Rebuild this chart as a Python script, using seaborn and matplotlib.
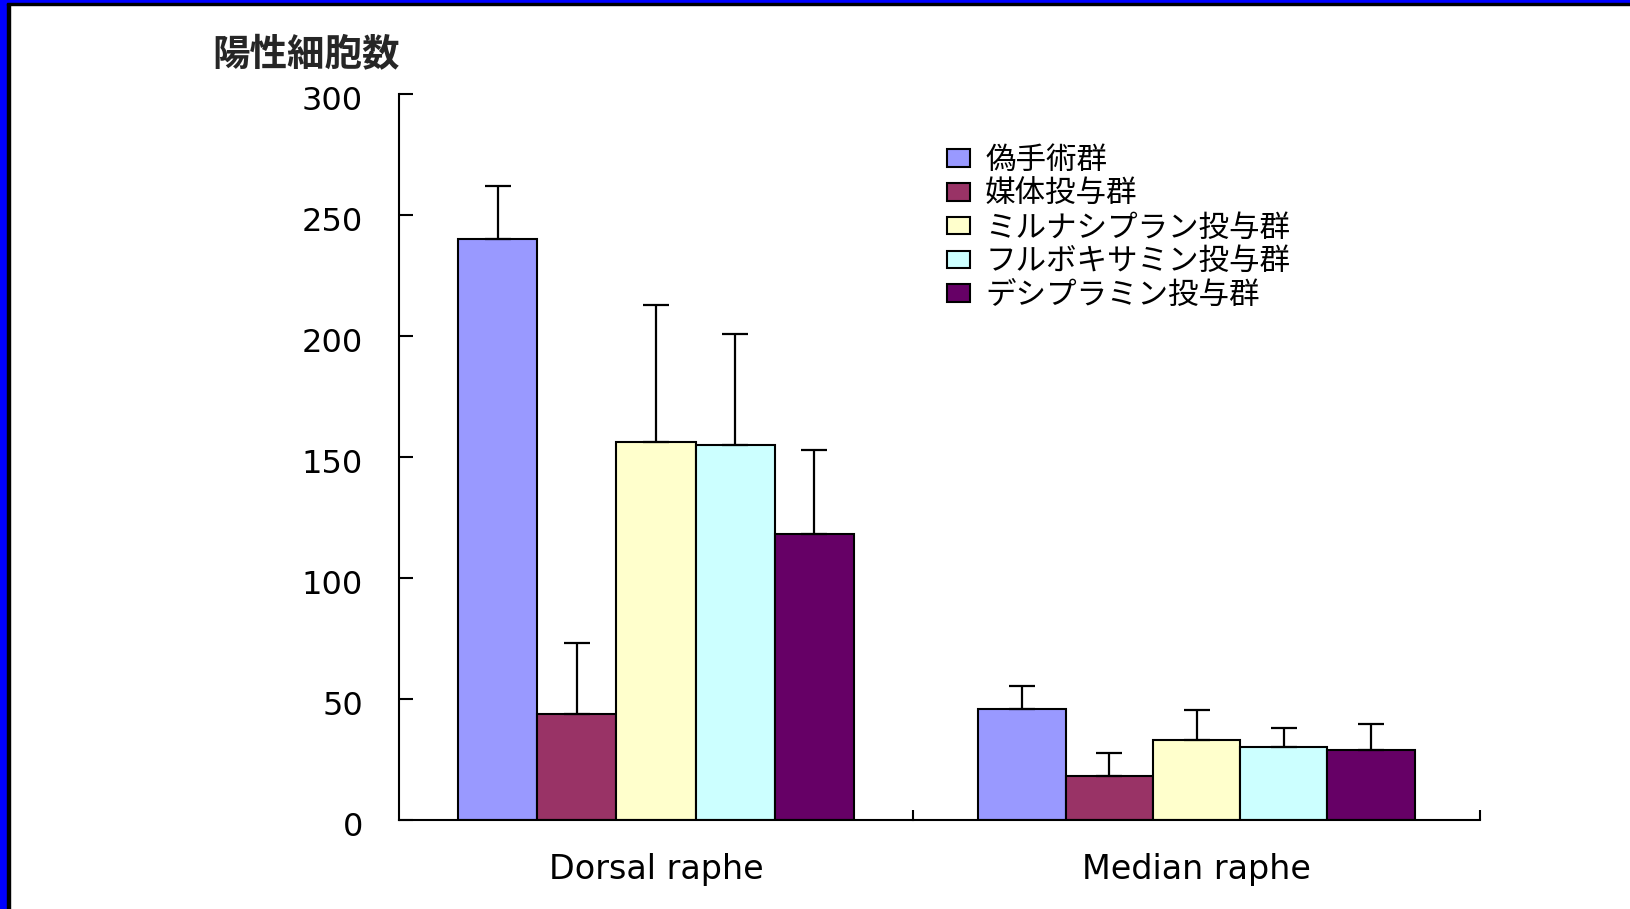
import numpy as np
import pandas as pd
import matplotlib
matplotlib.use("Agg")
import matplotlib.pyplot as plt
from matplotlib.patches import Rectangle
from matplotlib.container import BarContainer
from matplotlib.ticker import FixedLocator, NullFormatter
from matplotlib.transforms import ScaledTranslation
import seaborn as sns

# Immunopositive cell counts (mean and upper SEM) per nucleus and treatment group
regions = ["Dorsal raphe", "Median raphe"]
groups = ["偽手術群", "媒体投与群", "ミルナシプラン投与群", "フルボキサミン投与群", "デシプラミン投与群"]
dorsal_mean = [240, 44, 156, 155, 118]
dorsal_sem = [22, 29, 57, 46, 35]
median_mean = [46, 18, 33, 30, 29]
median_sem = [9.5, 9.5, 12.5, 8, 10.5]
group_colors = ["#9999FF", "#993366", "#FFFFCC", "#CCFFFF", "#660066"]
y_ticks = [0, 50, 100, 150, 200, 250, 300]
y_label = "陽性細胞数"

df = pd.DataFrame({
    "region": [regions[0]] * len(groups) + [regions[1]] * len(groups),
    "group": groups * 2,
    "count": dorsal_mean + median_mean,
    "sem": dorsal_sem + median_sem,
})

sns.set_theme(style="ticks")
plt.rcParams["font.family"] = ["DejaVu Sans", "Noto Sans CJK JP"]
jp = ["Noto Sans CJK JP", "DejaVu Sans"]

W, H = 1630, 909
x0, xmid, x1 = 399, 913, 1480
y_bot, y_top = 820, 94
fig = plt.figure(figsize=(W / 100, H / 100), dpi=100, facecolor="white")
bottom, height = 1 - y_bot / H, (y_bot - y_top) / H
ax_dr = fig.add_axes([x0 / W, bottom, (xmid - x0) / W, height])
ax_mr = fig.add_axes([xmid / W, bottom, (x1 - xmid) / W, height])

for ax, region in [(ax_dr, regions[0]), (ax_mr, regions[1])]:
    sub = df[df["region"] == region]
    sns.barplot(
        data=sub, x="region", y="count", hue="group",
        hue_order=groups, palette=group_colors,
        width=0.77, gap=0, errorbar=None, saturation=1,
        edgecolor="black", linewidth=1.5, ax=ax, legend=(ax is ax_mr),
    )
    # Upper-only error bars from each bar's top
    bar_sets = [c for c in ax.containers if isinstance(c, BarContainer)]
    for gi, cont in enumerate(bar_sets):
        sem = sub[sub["group"] == groups[gi]]["sem"].iloc[0]
        for bar in cont:
            xc = bar.get_x() + bar.get_width() / 2
            ax.errorbar([xc], [bar.get_height()], yerr=[[0], [sem]], fmt="none",
                        ecolor="black", elinewidth=1.6, capsize=9.4, capthick=1.6, zorder=1)
    ax.set_xlim(-0.5, 0.5)
    ax.set_ylim(0, 300)
    ax.set_xlabel("")
    ax.set_ylabel("")
    ax.tick_params(axis="x", which="major", length=0, pad=24, labelsize=24, colors="black")
    ax.xaxis.set_minor_locator(FixedLocator([0.5]))
    ax.xaxis.set_minor_formatter(NullFormatter())
    ax.tick_params(axis="x", which="minor", direction="in", length=7, width=1.5, color="black")
    sns.despine(ax=ax)
    for s in ["left", "bottom"]:
        ax.spines[s].set_linewidth(1.5)
        ax.spines[s].set_color("black")
    ax.patch.set_alpha(0)

ax_dr.set_yticks(y_ticks)
ax_dr.tick_params(axis="y", direction="in", length=10, width=1.5, pad=26, labelsize=23, colors="black")
shift = ScaledTranslation(0, -4 / 100, fig.dpi_scale_trans)
for lab in ax_dr.get_yticklabels():
    lab.set_transform(lab.get_transform() + shift)
ax_dr.set_ylabel(y_label, rotation=0, fontsize=27, fontweight="bold", family=jp,
                 ha="center", va="center")
ax_dr.yaxis.set_label_coords(-0.181, 1.054)

ax_mr.spines["left"].set_visible(False)
ax_mr.tick_params(axis="y", left=False, labelleft=False)

handles, labels = ax_mr.get_legend_handles_labels()
ax_mr.get_legend().remove()
leg = fig.legend(handles, labels, loc="upper left", bbox_to_anchor=(947 / W, 1 - 145 / H),
                 frameon=False, borderpad=0, borderaxespad=0,
                 handlelength=0.75, handleheight=0.5, handletextpad=0.5,
                 labelspacing=0.09, prop={"family": jp, "size": 22})
for t in leg.get_texts():
    t.set_color("black")

# Slide frame along the left and top edges
fig.patches.extend([
    Rectangle((0, 0), 7 / W, 1, transform=fig.transFigure, color="#0000FF", zorder=10),
    Rectangle((7 / W, 0), 3 / W, 1 - 3 / H, transform=fig.transFigure, color="black", zorder=10),
    Rectangle((0, 1 - 3 / H), 1, 3 / H, transform=fig.transFigure, color="#0000FF", zorder=10),
    Rectangle((7 / W, 1 - 5 / H), 1, 2 / H, transform=fig.transFigure, color="black", zorder=10),
])

fig.savefig("out.png", dpi=100, facecolor="white")
